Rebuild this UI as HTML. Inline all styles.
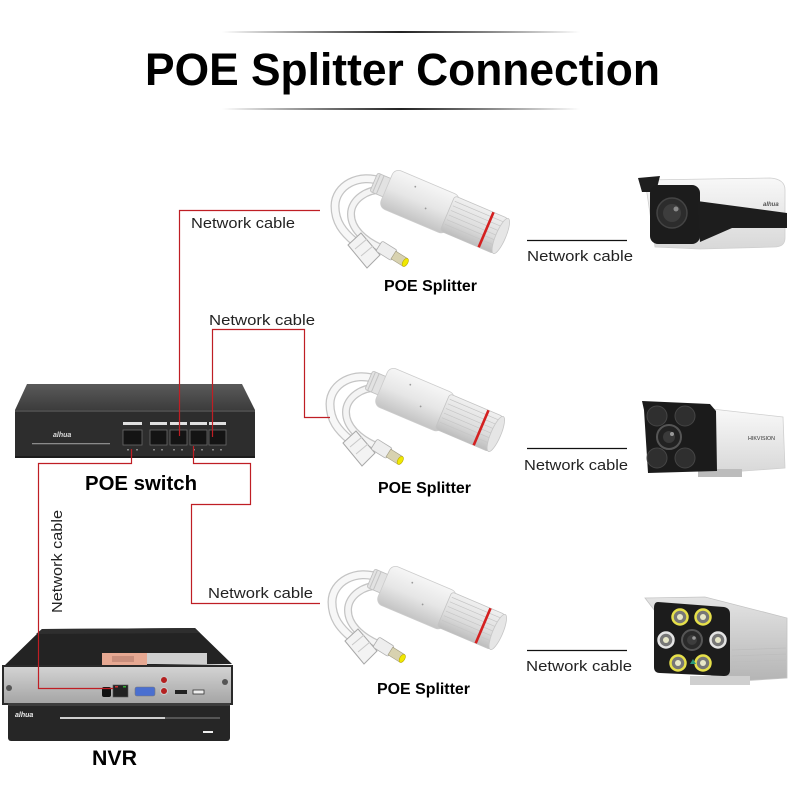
<!DOCTYPE html>
<html><head><meta charset="utf-8"><style>
html,body{margin:0;padding:0;background:#fff;}
svg{display:block;}
text{font-family:"Liberation Sans",Arial,sans-serif;}
</style></head><body>
<svg width="800" height="800" viewBox="0 0 800 800" xmlns="http://www.w3.org/2000/svg">
<defs>
 <linearGradient id="tl" x1="0" x2="1" y1="0" y2="0">
  <stop offset="0" stop-color="#000" stop-opacity="0"/>
  <stop offset="0.5" stop-color="#222" stop-opacity="1"/>
  <stop offset="1" stop-color="#000" stop-opacity="0"/>
 </linearGradient>
 <linearGradient id="bodyG" x1="0" x2="0" y1="0" y2="1">
  <stop offset="0" stop-color="#f6f6f6"/>
  <stop offset="0.5" stop-color="#e6e6e6"/>
  <stop offset="1" stop-color="#c4c4c4"/>
 </linearGradient>
 <linearGradient id="capG" x1="0" x2="0" y1="0" y2="1">
  <stop offset="0" stop-color="#f0f0f0"/>
  <stop offset="0.6" stop-color="#dcdcdc"/>
  <stop offset="1" stop-color="#bdbdbd"/>
 </linearGradient>
 <linearGradient id="swTop" x1="0" x2="0" y1="0" y2="1">
  <stop offset="0" stop-color="#5a5a5a"/>
  <stop offset="1" stop-color="#3c3c3c"/>
 </linearGradient>
 <linearGradient id="nvrBack" x1="0" x2="0" y1="0" y2="1">
  <stop offset="0" stop-color="#d4d4d4"/>
  <stop offset="1" stop-color="#a4a4a4"/>
 </linearGradient>
 <linearGradient id="camG" x1="0" x2="0" y1="0" y2="1">
  <stop offset="0" stop-color="#f8f8f8"/>
  <stop offset="1" stop-color="#d8d8d8"/>
 </linearGradient>
 <linearGradient id="cam3G" x1="0" x2="0" y1="0" y2="1">
  <stop offset="0" stop-color="#e4e4e4"/>
  <stop offset="1" stop-color="#b4b4b4"/>
 </linearGradient>

 <g id="sp">
  <path d="M380,578 C356,568 332,582 332,602 C332,618 340,628 352,638" stroke="#c4c4c4" stroke-width="9" fill="none" stroke-linecap="round"/>
  <path d="M380,578 C356,568 332,582 332,602 C332,618 340,628 352,638" stroke="#f7f7f7" stroke-width="6.5" fill="none" stroke-linecap="round"/>
  <path d="M382,586 C364,584 348,596 348,610 C348,624 360,636 378,644" stroke="#c4c4c4" stroke-width="8" fill="none" stroke-linecap="round"/>
  <path d="M382,586 C364,584 348,596 348,610 C348,624 360,636 378,644" stroke="#f4f4f4" stroke-width="5.5" fill="none" stroke-linecap="round"/>
  <polygon points="345,641 358,629 377,651 364,664" fill="#f3f3f3" stroke="#a8a8a8" stroke-width="1"/>
  <line x1="352" y1="645" x2="364" y2="635" stroke="#c8c8c8" stroke-width="1"/>
  <line x1="358" y1="652" x2="370" y2="642" stroke="#c8c8c8" stroke-width="1"/>
  <g transform="translate(376,642) rotate(32)">
   <rect x="0" y="-6" width="18" height="12" rx="2" fill="#eeeeee" stroke="#b0b0b0" stroke-width="0.8"/>
   <rect x="17" y="-4.5" width="14" height="9" fill="#d8d2b0" stroke="#a09a80" stroke-width="0.6"/>
   <ellipse cx="31" cy="0" rx="2.5" ry="4.5" fill="#f0e800" stroke="#b8a800" stroke-width="0.6"/>
  </g>
  <g transform="translate(380,582) rotate(23)">
   <rect x="-10" y="-10" width="16" height="20" rx="2" fill="#e2e2e2" stroke="#bdbdbd" stroke-width="0.8"/>
   <line x1="-7" y1="-10" x2="-7" y2="10" stroke="#c4c4c4"/>
   <line x1="-3" y1="-10" x2="-3" y2="10" stroke="#c4c4c4"/>
   <rect x="4" y="-21" width="72" height="42" rx="7" fill="url(#bodyG)" stroke="#cccccc" stroke-width="0.8"/>
   <rect x="70" y="-19" width="58" height="38" rx="3" fill="url(#capG)" stroke="#c4c4c4" stroke-width="0.8"/>
   <g stroke="#c6c6c6" stroke-width="0.7">
    <line x1="72" y1="-14" x2="126" y2="-14"/>
    <line x1="72" y1="-9" x2="126" y2="-9"/>
    <line x1="72" y1="-4" x2="126" y2="-4"/>
    <line x1="72" y1="1" x2="126" y2="1"/>
    <line x1="72" y1="6" x2="126" y2="6"/>
    <line x1="72" y1="11" x2="126" y2="11"/>
    <line x1="72" y1="15" x2="126" y2="15"/>
   </g>
   <line x1="112" y1="-19" x2="112" y2="19" stroke="#d42020" stroke-width="2.6"/>
   <ellipse cx="128" cy="0" rx="5" ry="19" fill="#e6e6e6" stroke="#c6c6c6" stroke-width="0.8"/>
   <circle cx="30" cy="-12" r="0.9" fill="#999"/>
   <circle cx="48" cy="4" r="0.9" fill="#999"/>
  </g>
 </g>
</defs>

<rect x="222" y="31" width="358" height="2" fill="url(#tl)"/>
<rect x="222" y="108" width="358" height="2" fill="url(#tl)"/>
<text x="145" y="85" font-size="45" font-weight="bold" fill="#000" textLength="515" lengthAdjust="spacingAndGlyphs">POE Splitter Connection</text>

<!-- POE switch -->
<polygon points="27,384 242,384 255,410 15,410" fill="url(#swTop)"/>
<rect x="15" y="410" width="240" height="48" fill="#2d2d2d"/>
<rect x="15" y="410" width="240" height="2" fill="#4a4a4a"/>
<rect x="15" y="456" width="240" height="2" fill="#1c1c1c"/>
<g fill="#e0e0e0">
 <rect x="123" y="422" width="19" height="3"/>
 <rect x="150" y="422" width="17" height="3"/>
 <rect x="170" y="422" width="17" height="3"/>
 <rect x="190" y="422" width="17" height="3"/>
 <rect x="209" y="422" width="17" height="3"/>
</g>
<g fill="#141414" stroke="#6a6a6a" stroke-width="0.8">
 <rect x="123" y="430" width="19" height="15"/>
 <rect x="150" y="430" width="17" height="15"/>
 <rect x="170" y="430" width="17" height="15"/>
 <rect x="190" y="430" width="17" height="15"/>
 <rect x="209" y="430" width="17" height="15"/>
</g>
<g fill="#888">
 <rect x="127" y="449" width="2" height="1.5"/><rect x="136" y="449" width="2" height="1.5"/>
 <rect x="153" y="449" width="2" height="1.5"/><rect x="161" y="449" width="2" height="1.5"/>
 <rect x="173" y="449" width="2" height="1.5"/><rect x="181" y="449" width="2" height="1.5"/>
 <rect x="193" y="449" width="2" height="1.5"/><rect x="201" y="449" width="2" height="1.5"/>
 <rect x="212" y="449" width="2" height="1.5"/><rect x="220" y="449" width="2" height="1.5"/>
</g>
<text x="53" y="437" font-size="7" font-weight="bold" font-style="italic" fill="#ddd">alhua</text>
<rect x="32" y="443" width="78" height="1.3" fill="#8a8a8a"/>

<text x="85" y="490" font-size="20" font-weight="bold" fill="#000" textLength="112" lengthAdjust="spacingAndGlyphs">POE switch</text>

<!-- NVR -->
<polygon points="42,629 195,628 232,664 3,667" fill="#232323"/>
<polygon points="42,629 195,628 200,633 36,634" fill="#2e2e2e"/>
<rect x="102" y="653" width="45" height="12" fill="#e6a892"/>
<rect x="112" y="656" width="22" height="6" fill="#c98e7c"/>
<rect x="147" y="653" width="60" height="11" fill="#cfcfcf"/>
<rect x="3" y="666" width="229" height="38" fill="url(#nvrBack)" stroke="#2a2a2a" stroke-width="2"/>
<circle cx="9" cy="688" r="3" fill="#555"/>
<circle cx="225" cy="682" r="3" fill="#555"/>
<rect x="102" y="687" width="9" height="10" rx="2" fill="#111"/>
<rect x="113" y="685" width="15" height="12" fill="#222" stroke="#555" stroke-width="0.6"/>
<rect x="115" y="686" width="3" height="1.5" fill="#c33"/><rect x="123" y="686" width="3" height="1.5" fill="#3a3"/>
<rect x="135" y="687" width="20" height="9" rx="2" fill="#4a6fd0" stroke="#777" stroke-width="0.6"/>
<circle cx="164" cy="680" r="3.5" fill="#b42020" stroke="#ccc" stroke-width="1"/>
<circle cx="164" cy="691" r="3.5" fill="#b42020" stroke="#ccc" stroke-width="1"/>
<rect x="175" y="690" width="12" height="4" fill="#222"/>
<rect x="193" y="690" width="11" height="4" fill="#eee" stroke="#333" stroke-width="0.8"/>
<rect x="8" y="703" width="222" height="38" rx="3" fill="#262626"/>
<rect x="8" y="703" width="222" height="3" fill="#3c3c3c"/>
<rect x="60" y="717" width="105" height="2" fill="#cfcfcf"/>
<rect x="165" y="717" width="55" height="2" fill="#555"/>
<rect x="203" y="731" width="10" height="2" fill="#eee"/>
<text x="15" y="717" font-size="7" font-weight="bold" font-style="italic" fill="#eee">alhua</text>

<text x="92" y="765" font-size="21" font-weight="bold" fill="#000" textLength="45" lengthAdjust="spacingAndGlyphs">NVR</text>

<!-- Splitters -->
<use href="#sp" transform="translate(3,-396)"/>
<use href="#sp" transform="translate(-2,-198)"/>
<use href="#sp"/>
<text x="384" y="291" font-size="16" font-weight="bold" fill="#000" textLength="93" lengthAdjust="spacingAndGlyphs">POE Splitter</text>
<text x="378" y="493" font-size="16" font-weight="bold" fill="#000" textLength="93" lengthAdjust="spacingAndGlyphs">POE Splitter</text>
<text x="377" y="694" font-size="16" font-weight="bold" fill="#000" textLength="93" lengthAdjust="spacingAndGlyphs">POE Splitter</text>

<!-- Red cables -->
<g stroke="#bf1e24" stroke-width="1.2" fill="none">
 <polyline points="179.5,436 179.5,210.5 320,210.5"/>
 <polyline points="212.5,437 212.5,329.5 304.5,329.5 304.5,417.5 330,417.5"/>
 <polyline points="193.5,446 193.5,463.5 250.5,463.5 250.5,504.5 191.5,504.5 191.5,603.5 320,603.5"/>
 <polyline points="131.5,449 131.5,463.5 38.5,463.5 38.5,688.5 113,688.5"/>
</g>

<!-- Black cables -->
<g stroke="#111" stroke-width="1.2">
 <line x1="527" y1="240.5" x2="627" y2="240.5"/>
 <line x1="527" y1="448.5" x2="627" y2="448.5"/>
 <line x1="527" y1="650.5" x2="627" y2="650.5"/>
</g>

<!-- Labels -->
<g font-size="15" fill="#222">
 <text x="191" y="228" textLength="104" lengthAdjust="spacingAndGlyphs">Network cable</text>
 <text x="209" y="325" textLength="106" lengthAdjust="spacingAndGlyphs">Network cable</text>
 <text x="208" y="598" textLength="105" lengthAdjust="spacingAndGlyphs">Network cable</text>
 <text x="527" y="261" textLength="106" lengthAdjust="spacingAndGlyphs">Network cable</text>
 <text x="524" y="470" textLength="104" lengthAdjust="spacingAndGlyphs">Network cable</text>
 <text x="526" y="671" textLength="106" lengthAdjust="spacingAndGlyphs">Network cable</text>
 <text transform="translate(62,613) rotate(-90)" x="0" y="0" textLength="103" lengthAdjust="spacingAndGlyphs">Network cable</text>
</g>

<!-- Camera 1 (top) -->
<path d="M645,180 L770,178 Q785,179 785,190 L785,238 Q785,247 774,247 L700,249 L655,247 Z" fill="url(#camG)" stroke="#cfcfcf" stroke-width="0.8"/>
<polygon points="638,178 660,176 656,192 642,192" fill="#1e1e1e"/>
<rect x="650" y="185" width="50" height="59" rx="8" fill="#1c1c1c"/>
<polygon points="697,201 787,213 787,228 732,228 700,242" fill="#1d1d1d"/>
<circle cx="672" cy="213" r="15" fill="#2c2c2c" stroke="#444" stroke-width="1.5"/>
<circle cx="672" cy="213" r="9" fill="#3d3d3d"/>
<circle cx="676" cy="209" r="2.5" fill="#8a8a8a"/>
<text x="763" y="206" font-size="6" font-weight="bold" font-style="italic" fill="#555">alhua</text>

<!-- Camera 2 (middle) -->
<polygon points="712,409 783,417 785,468 716,473" fill="url(#camG)" stroke="#cfcfcf" stroke-width="0.8"/>
<rect x="698" y="469" width="44" height="8" fill="#bcbcbc"/>
<polygon points="642,401 710,404 716,411 717,471 648,473 644,410" fill="#1b1b1b"/>
<g fill="#2f2f2f" stroke="#454545" stroke-width="1">
 <circle cx="657" cy="416" r="10"/>
 <circle cx="685" cy="416" r="10"/>
 <circle cx="657" cy="458" r="10"/>
 <circle cx="685" cy="458" r="10"/>
</g>
<circle cx="669" cy="437" r="12" fill="#222" stroke="#555" stroke-width="2"/>
<circle cx="669" cy="437" r="6" fill="#3a3a3a"/>
<circle cx="672" cy="434" r="2" fill="#999"/>
<text x="748" y="440" font-size="5.5" fill="#333" textLength="27" lengthAdjust="spacingAndGlyphs">HIKVISION</text>

<!-- Camera 3 (bottom) -->
<polygon points="645,598 705,597 787,618 787,678 725,682 700,670" fill="url(#cam3G)" stroke="#c4c4c4" stroke-width="0.8"/>
<g stroke="#bdbdbd" stroke-width="0.8">
 <line x1="732" y1="650" x2="786" y2="648"/>
 <line x1="732" y1="656" x2="786" y2="654"/>
 <line x1="732" y1="662" x2="786" y2="660"/>
 <line x1="732" y1="668" x2="786" y2="666"/>
</g>
<rect x="690" y="676" width="60" height="9" fill="#cfcfcf"/>
<path d="M658,602 L724,607 Q730,608 730,614 L730,670 Q730,676 724,676 L660,673 Q654,673 654,667 L654,608 Q654,602 658,602 Z" fill="#1c1c1c"/>
<g stroke-width="2.5">
 <circle cx="680" cy="617" r="7.5" fill="#777" stroke="#e6e04a"/>
 <circle cx="703" cy="617" r="7.5" fill="#777" stroke="#e6e04a"/>
 <circle cx="678" cy="663" r="7.5" fill="#777" stroke="#e6e04a"/>
 <circle cx="703" cy="663" r="7.5" fill="#777" stroke="#e6e04a"/>
 <circle cx="666" cy="640" r="7.5" fill="#777" stroke="#e4e4e4"/>
 <circle cx="718" cy="640" r="7.5" fill="#777" stroke="#e4e4e4"/>
</g>
<g fill="#e8e8c8">
 <circle cx="680" cy="617" r="3"/><circle cx="703" cy="617" r="3"/>
 <circle cx="678" cy="663" r="3"/><circle cx="703" cy="663" r="3"/>
 <circle cx="666" cy="640" r="3"/><circle cx="718" cy="640" r="3"/>
</g>
<circle cx="692" cy="640" r="10" fill="#2a2a2a" stroke="#555" stroke-width="2"/>
<circle cx="692" cy="640" r="5" fill="#3d3d3d"/>
<circle cx="694" cy="638" r="1.8" fill="#999"/>
<polygon points="690,664 693,659 696,664" fill="#2a9a7a"/>
</svg>
</body></html>
